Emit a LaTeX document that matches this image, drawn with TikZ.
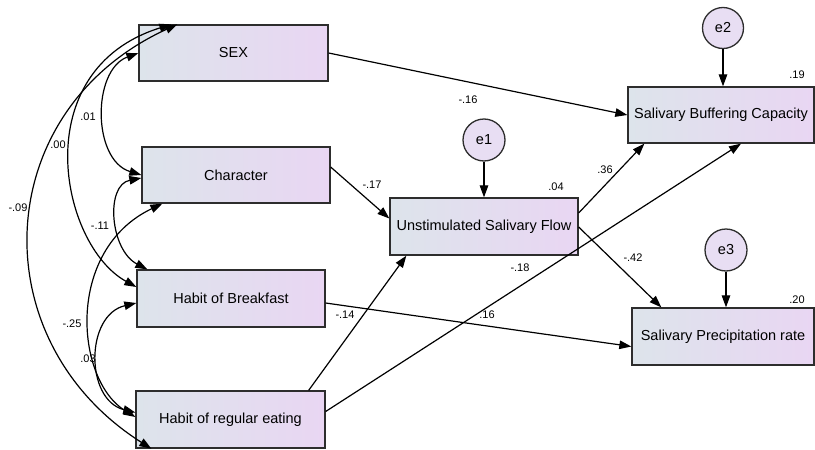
\documentclass[tikz,border=0pt]{standalone}
\usepackage{fontspec}
\setmainfont{Liberation Sans}
\usepackage{tikz}
\usetikzlibrary{arrows.meta,positioning}
\definecolor{boxl}{RGB}{221,228,235}
\definecolor{boxr}{RGB}{233,214,243}
\definecolor{errc}{RGB}{232,222,243}
\definecolor{bord}{RGB}{45,45,45}
\tikzset{var/.style={rectangle,draw=bord,line width=1.3pt,left color=boxl,right color=boxr,minimum width=188pt,minimum height=56pt,inner sep=0pt,font=\fontsize{14.5}{17}\selectfont}}
\tikzset{err/.style={circle,draw=bord,line width=1.3pt,fill=errc,minimum size=41pt,inner sep=0pt,font=\fontsize{14.5}{17}\selectfont}}
\tikzset{coef/.style={inner sep=0pt,font=\fontsize{11}{13}\selectfont}}
\tikzset{reg/.style={->,line width=1.2pt},cov/.style={<->,line width=1.2pt}}

\begin{document}
\begin{tikzpicture}[x=1pt,y=-1pt,>={Triangle[length=12pt,width=8.5pt]}]
    \useasboundingbox (0,0) rectangle (815,450);

    \node[var,minimum width=189pt] (sex)at (233.5,53) {SEX};
    \node[var] (char)at (236,175) {Character};
    \node[var,minimum height=57pt] (bfast)at (231,298.5) {Habit of Breakfast};
    \node[var,minimum width=189pt,minimum height=57pt] (eat)at (230.5,419.5) {Habit of regular eating};
    \node[var,minimum height=57pt] (flow)at (484,226.5) {Unstimulated Salivary Flow};
    \node[var,minimum width=186pt] (buff)at (721,115) {Salivary Buffering Capacity};
    \node[var,minimum width=182pt,minimum height=57pt] (prec)at (723,336.5) {Salivary Precipitation rate};

    \node[err,minimum size=42pt] (e1)at (484,140) {e1};
    \node[err] (e2)at (723,28) {e2};
    \node[err,minimum size=42pt] (e3)at (726,250) {e3};

    \draw [reg] (e1) to (flow);
    \draw [reg] (e2) to (e2 |- buff.north);
    \draw [reg] (e3) to (e3 |- prec.north);

    \draw [reg] (sex.east) to (buff.west);
    \draw [reg] ([yshift=8pt]char.east) to ([yshift=8pt]flow.west);
    \draw [reg] ([xshift=-17pt]eat.north east) to ([xshift=17pt]flow.south west);
    \draw [reg] ([yshift=8pt]eat.east) to ([xshift=20pt]buff.south);
    \draw [reg] ([yshift=-4.5pt]bfast.east) to ([yshift=-10pt]prec.west);
    \draw [reg] ([yshift=13.5pt]flow.east) to ([xshift=17pt]buff.south west);
    \draw [reg] ([yshift=-0.5pt]flow.east) to ([xshift=30pt]prec.north west);

    \draw [cov] (sex.west) .. controls (92,70) and (92,160) .. (char.west);
    \draw [cov] ([xshift=33pt]sex.north west) .. controls (25,70) and (60,245) .. ([yshift=11.5pt]bfast.west);
    \draw [cov] ([xshift=39pt]sex.north west) .. controls (-10,110) and (-20,340) .. ([xshift=16pt]eat.south west);
    \draw [cov] ([yshift=-3pt]char.west) .. controls (105,185) and (110,250) .. ([xshift=11pt]bfast.north west);
    \draw [cov] ([xshift=21pt]char.south west) .. controls (65,250) and (75,380) .. ([yshift=2.5pt]eat.west);
    \draw [cov] ([yshift=-4.5pt]bfast.west) .. controls (85,315) and (85,400) .. ([yshift=7pt]eat.west);

    \node[coef] (rbuff)at (797,75) {.19};
    \node[coef] (rflow)at (556,187) {.04};
    \node[coef] (rprec)at (797,300) {.20};

    \node[coef] (wsexbuff)at (468,100) {-.16};
    \node[coef] (wflowbuff)at (605,170) {.36};
    \node[coef] (wcharflow)at (372,185) {-.17};
    \node[coef] (wflowprec)at (633,258) {-.42};
    \node[coef] (weatbuff)at (520,268) {-.18};
    \node[coef] (weatflow)at (345,315) {-.14};
    \node[coef] (wbfastprec)at (487,315) {.16};

    \node[coef] (csexchar)at (88,117) {.01};
    \node[coef] (csexbfast)at (58,145) {.00};
    \node[coef] (csexeat)at (18,208) {-.09};
    \node[coef] (ccharbfast)at (100,226) {-.11};
    \node[coef] (ccharEat)at (72,324) {-.25};
    \node[coef] (cbfasteat)at (88,359) {.03};
\end{tikzpicture}
\end{document}
